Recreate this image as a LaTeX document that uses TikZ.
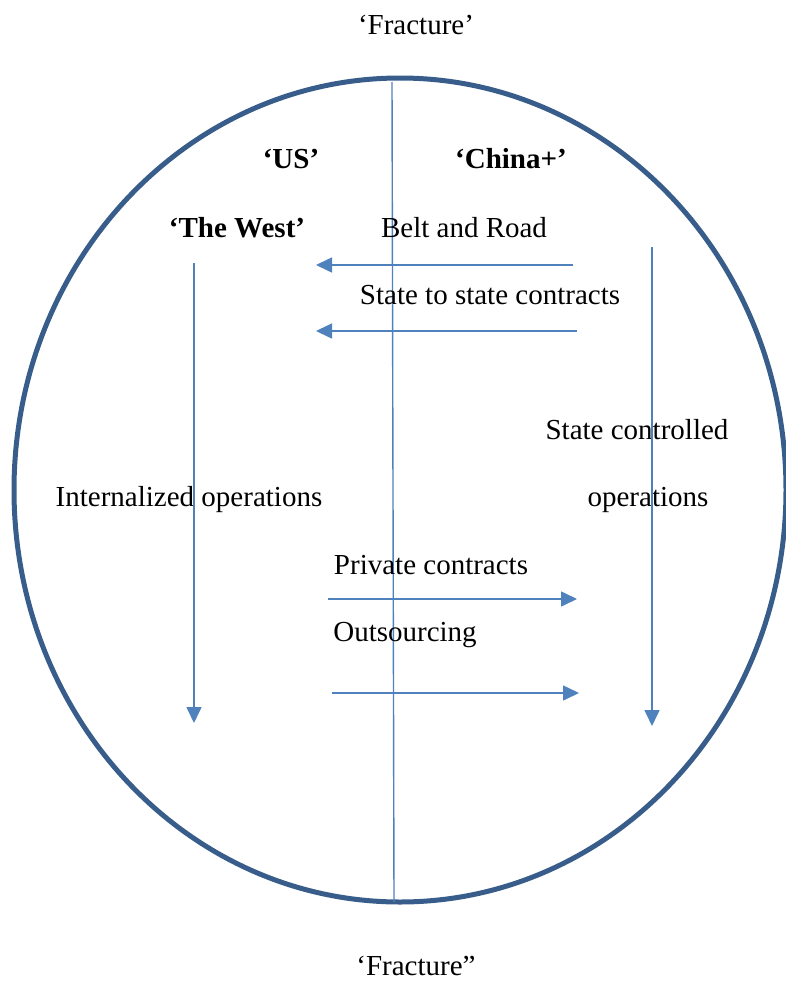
\documentclass[tikz,border=0pt]{standalone}
\usepackage{fontspec}
\setmainfont{Liberation Serif}
\usetikzlibrary{arrows.meta}
\definecolor{ringblue}{RGB}{56,93,138}
\definecolor{arrowblue}{RGB}{79,129,189}

\begin{document}
\begin{tikzpicture}[x=1pt, y=-1pt, every node/.style={font=\fontsize{29}{34}\selectfont, anchor=base, inner sep=0pt}, flow/.style={arrowblue, line width=1.6pt, -{Triangle[length=16pt, width=15pt]}}]
  \useasboundingbox (0,0) rectangle (785,982);

  % Outer ring
  \draw[ringblue, line width=5pt] (400,490) ellipse [x radius=386pt, y radius=412pt];

  % Fracture line
  \node (fractop) at (416,35) {‘Fracture’};
  \node (fracbot) at (416,975) {‘Fracture”};
  \coordinate (divtop) at (392,82);
  \coordinate (divbot) at (394,902);
  \draw[arrowblue, line width=1.4pt] (divtop) -- (divbot);

  % Sides
  \node (us) at (291,168) {\textbf{‘US’}};
  \node (china) at (511,168) {\textbf{‘China+’}};
  \node (west) at (237,237) {\textbf{‘The West’}};

  % China to West
  \node (belt) at (464,237) {Belt and Road};
  \node (statec) at (490,304) {State to state contracts};
  \coordinate (belt-s) at (573,265);
  \coordinate (belt-e) at (316,265);
  \coordinate (statec-s) at (577,331);
  \coordinate (statec-e) at (316,331);
  \draw[flow] (belt-s) -- (belt-e);
  \draw[flow] (statec-s) -- (statec-e);

  % Operations
  \node (intops) at (189,506) {Internalized operations};
  \node (stctrl) at (637,439) {State controlled};
  \node (stops) at (648,506) {operations};
  \coordinate (west-s) at (194,263);
  \coordinate (west-e) at (194,723);
  \coordinate (china-s) at (652,247);
  \coordinate (china-e) at (652,726);
  \draw[flow] (west-s) -- (west-e);
  \draw[flow] (china-s) -- (china-e);

  % West to China
  \node (private) at (431,574) {Private contracts};
  \node (outsrc) at (405,641) {Outsourcing};
  \coordinate (private-s) at (328,599);
  \coordinate (private-e) at (577,599);
  \coordinate (outsrc-s) at (332,693);
  \coordinate (outsrc-e) at (579,693);
  \draw[flow] (private-s) -- (private-e);
  \draw[flow] (outsrc-s) -- (outsrc-e);
\end{tikzpicture}
\end{document}
